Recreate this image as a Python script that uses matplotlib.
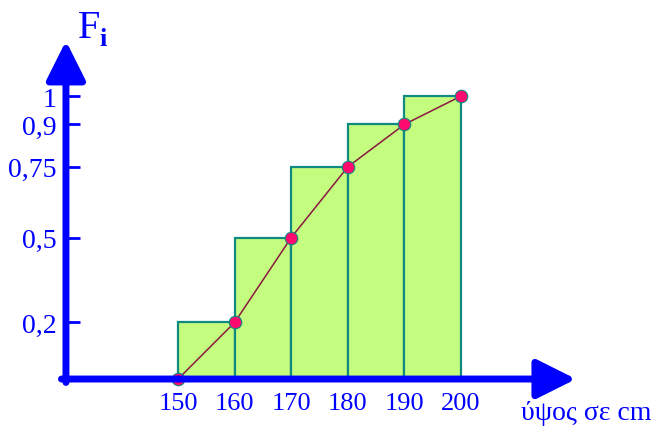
import matplotlib
matplotlib.use("Agg")
from matplotlib import pyplot as plt

# class limits (cm) and cumulative relative frequency F_i
edges = [150, 160, 170, 180, 190, 200]
heights = [0.2, 0.5, 0.75, 0.9, 1.0]
cum_points = [0, 0.2, 0.5, 0.75, 0.9, 1.0]
ytick_vals = [0.2, 0.5, 0.75, 0.9, 1.0]
ytick_labels = ["0,2", "0,5", "0,75", "0,9", "1"]
xtick_labels = ["150", "160", "170", "180", "190", "200"]

blue = "#0000ff"
serif = ["Liberation Serif", "DejaVu Serif"]

fig = plt.figure(figsize=(6.53, 4.27), dpi=100)
ax = fig.add_axes([0, 0, 1, 1])
ax.set_xlim(118.55, 233.9)
ax.set_ylim(-0.166, 1.343)

# histogram of cumulative frequencies
ax.bar(edges[:-1], heights, width=10, align="edge",
       color="#c4fc80", edgecolor="#108a80", linewidth=1.6, zorder=2)

# ogive
ax.plot(edges, cum_points, color="#8a1840", lw=1.1, zorder=3)
ax.plot(edges, cum_points, "o", ms=9, color="#ff0a6e",
        mec="#108a80", mew=0.8, zorder=4)

# axes: spines moved to the origin, drawn as arrows
for s in ax.spines.values():
    s.set_color("none")
ax.spines["left"].set_position(("data", 130.2))
ax.spines["bottom"].set_position(("data", 0))

ax.set_yticks(ytick_vals)
ax.set_yticklabels(ytick_labels)
ax.set_xticks(edges)
ax.set_xticklabels(xtick_labels)
ax.tick_params(axis="y", direction="in", length=10, width=2, color=blue,
               pad=7, labelcolor=blue, labelsize=20)
ax.tick_params(axis="x", length=0, pad=9, labelcolor=blue, labelsize=19)
for lab in ax.get_xticklabels() + ax.get_yticklabels():
    lab.set_family(serif)

arrow = dict(arrowstyle="-|>,head_length=1.0,head_width=0.5",
             color=blue, lw=5, mutation_scale=24, shrinkA=0, shrinkB=0)
ax.annotate("", xy=(130.2, 1.195), xytext=(130.2, -0.012),
            arrowprops=arrow, zorder=5)
ax.annotate("", xy=(220.3, 0), xytext=(129.4, 0),
            arrowprops=arrow, zorder=5)

ax.text(132.3, 1.208, "F", color=blue, fontsize=29, family=serif,
        va="baseline", ha="left")
ax.text(136.1, 1.18, "i", color=blue, fontsize=19, family=serif,
        fontweight="bold", va="baseline", ha="left")
ax.text(233.6, -0.141, "ύψος σε cm", color=blue, fontsize=20,
        family=serif, ha="right", va="baseline")

fig.savefig("out.png", dpi=100)
